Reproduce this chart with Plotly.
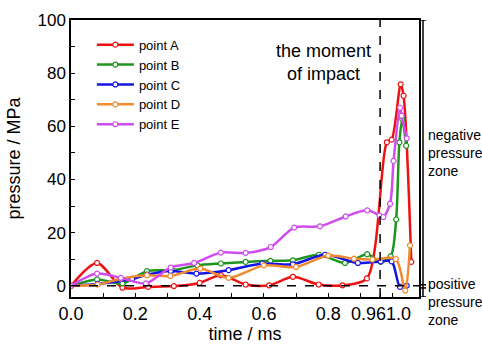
import plotly.graph_objects as go

FONT = "Liberation Sans, Arial, sans-serif"

# ---- data (time in ms, pressure in MPa) ----
a_t = [0, 0.081, 0.16, 0.24, 0.32, 0.40, 0.466, 0.543, 0.616, 0.69, 0.77, 0.844, 0.92, 0.982, 0.997, 1.025, 1.034, 1.058]
a_p = [0, 8.6, -0.7, -0.4, -0.1, 1.1, 4.0, 0.5, 0.2, 3.4, 0.5, 0.2, 2.8, 54, 55, 75.8, 71.5, 9]

b_t = [0, 0.081, 0.16, 0.236, 0.316, 0.393, 0.466, 0.543, 0.62, 0.69, 0.771, 0.852, 0.921, 0.963, 0.994, 1.011, 1.021, 1.03, 1.042]
b_p = [0, 2.4, 0.9, 5.5, 5.9, 7.7, 8.4, 9.0, 9.4, 9.6, 11.7, 8.6, 11.9, 9.0, 11.1, 25, 54, 62.7, 52.7]

c_t = [0, 0.083, 0.19, 0.236, 0.31, 0.39, 0.49, 0.595, 0.69, 0.79, 0.892, 0.963, 0.997, 1.023, 1.044]
c_p = [0, 0.7, 2.6, 4.2, 5.6, 4.6, 5.9, 8.4, 8.1, 11.7, 8.6, 9.2, 9.2, -0.4, 0.1]

d_t = [0, 0.083, 0.155, 0.236, 0.309, 0.402, 0.49, 0.6, 0.70, 0.80, 0.88, 0.937, 1.01, 1.039, 1.054]
d_p = [0, 0.5, 2.7, 4.0, 3.7, 6.5, 3.0, 7.7, 7.1, 11.4, 10.2, 9.9, 10.1, -1.8, 15.2]

e_t = [0, 0.081, 0.155, 0.233, 0.31, 0.383, 0.466, 0.543, 0.621, 0.694, 0.774, 0.854, 0.921, 0.959, 0.971, 0.992, 1.003, 1.023, 1.028, 1.044]
e_p = [0, 4.6, 3.0, 0.9, 6.9, 8.6, 12.5, 12.4, 14.6, 21.9, 22.4, 26.1, 28.4, 26.5, 25.9, 30.9, 47, 67, 64, 55.5]

series_names = ["point A", "point B", "point C", "point D", "point E"]
series_colors = ["#ee1111", "#1e961e", "#1414e6", "#ef8a30", "#d04cf0"]

impact_time = 0.961

x_tick_vals = [0, 0.2, 0.4, 0.6, 0.8, 0.925, 1.018]
x_tick_text = ["0.0", "0.2", "0.4", "0.6", "0.8", "0.96", "1.0"]
x_minor_ticks = [0.1, 0.2, 0.3, 0.4, 0.5, 0.6, 0.7, 0.8, 0.9, 0.961, 1.0]
y_tick_vals = [0, 20, 40, 60, 80, 100]
y_tick_text = ["0", "20", "40", "60", "80", "100"]
y_minor_ticks = [10, 30, 50, 70, 90]

x_range = [0, 1.082]
y_range = [-4.2, 100]

fig = go.Figure()
for t, p, name, col in zip([a_t, b_t, c_t, d_t, e_t], [a_p, b_p, c_p, d_p, e_p],
                           series_names, series_colors):
    fig.add_trace(go.Scatter(
        x=t, y=p, name=name, mode="lines+markers",
        line=dict(color=col, width=2.5, shape="spline", smoothing=0.8),
        marker=dict(symbol="circle", size=5, color="white", line=dict(color=col, width=1.2)),
    ))

# dashed reference lines
fig.add_shape(type="line", xref="x", yref="y", x0=0, x1=x_range[1], y0=0, y1=0,
              line=dict(color="black", width=1.5, dash="dash"))
fig.add_shape(type="line", xref="x", yref="y", x0=impact_time, x1=impact_time,
              y0=y_range[0], y1=y_range[1], line=dict(color="black", width=1.5, dash="dash"))

# right-side zone indicator
zx = 1.0115
fig.add_shape(type="line", xref="paper", yref="y", x0=zx, x1=zx, y0=y_range[0], y1=y_range[1],
              line=dict(color="black", width=1.5))
for yy in [y_range[1], 0.4, -0.8, y_range[0]]:
    fig.add_shape(type="line", xref="paper", yref="y", x0=zx - 0.009, x1=zx + 0.009, y0=yy, y1=yy,
                  line=dict(color="black", width=1.5))

fig.add_annotation(x=1.02, y=0.52, xref="paper", yref="paper", xanchor="left", yanchor="middle",
                   text="negative<br>pressure<br>zone", showarrow=False, align="left",
                   font=dict(family=FONT, size=14, color="black"))
fig.add_annotation(x=1.02, y=-0.018, xref="paper", yref="paper", xanchor="left", yanchor="middle",
                   text="positive<br>pressure<br>zone", showarrow=False, align="left",
                   font=dict(family=FONT, size=14, color="black"))
fig.add_annotation(x=0.727, y=0.845, xref="paper", yref="paper", xanchor="center", yanchor="middle",
                   text="the moment<br>of impact", showarrow=False, align="center",
                   font=dict(family=FONT, size=18, color="black"))

fig.update_layout(
    width=482, height=347,
    margin=dict(l=71, r=63, t=20, b=50),
    paper_bgcolor="white", plot_bgcolor="white",
    font=dict(family=FONT, color="black"),
    showlegend=True,
    legend=dict(x=0.06, y=0.965, xanchor="left", yanchor="top", bgcolor="rgba(0,0,0,0)",
                font=dict(family=FONT, size=13, color="black"), itemwidth=37, tracegroupgap=0),
)
fig.update_xaxes(range=x_range, showgrid=False, zeroline=False, showline=True, linecolor="black",
                 linewidth=1.5, mirror=True, tickmode="array", tickvals=x_tick_vals, ticktext=x_tick_text,
                 ticks="", tickangle=0, ticklabelstandoff=0, automargin=False,
                 tickfont=dict(family=FONT, size=18, color="black"),
                 minor=dict(tickmode="array", tickvals=x_minor_ticks, ticks="inside", ticklen=4,
                            tickcolor="black", tickwidth=1.2),
                 title=dict(text="time / ms", font=dict(family=FONT, size=18, color="black"), standoff=3))
fig.update_yaxes(range=y_range, showgrid=False, zeroline=False, showline=True, linecolor="black",
                 linewidth=1.5, mirror=True, tickmode="array", tickvals=y_tick_vals, ticktext=y_tick_text,
                 ticks="inside", ticklen=4, tickcolor="black", tickwidth=1.2, automargin=False,
                 tickfont=dict(family=FONT, size=17, color="black"),
                 minor=dict(tickmode="array", tickvals=y_minor_ticks, ticks="inside", ticklen=4,
                            tickcolor="black", tickwidth=1.2),
                 title=dict(text="pressure / MPa", font=dict(family=FONT, size=18, color="black"), standoff=12))

fig.write_html("out.html")
